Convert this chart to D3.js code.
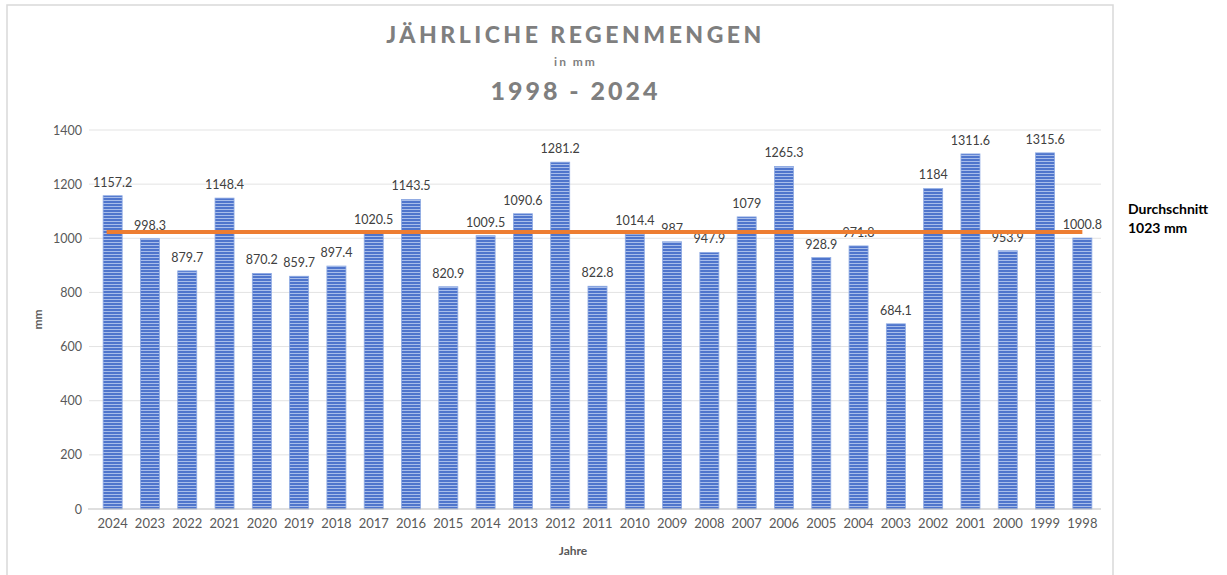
<!DOCTYPE html>
<html lang="de">
<head>
<meta charset="UTF-8">
<title>Jährliche Regenmengen</title>
<script src="https://d3js.org/d3.v7.min.js"></script>
<style>
    body { margin: 0; background: #fff; font-family: Lato, "Open Sans", sans-serif; }
    svg { display: block; }
</style>
</head>
<body>
<div id="chart"></div>
<script>
    // Daten
    const years = ["2024","2023","2022","2021","2020","2019","2018","2017","2016","2015","2014","2013","2012",
                   "2011","2010","2009","2008","2007","2006","2005","2004","2003","2002","2001","2000","1999","1998"];
    const rain = [1157.2, 998.3, 879.7, 1148.4, 870.2, 859.7, 897.4, 1020.5, 1143.5, 820.9, 1009.5, 1090.6, 1281.2,
                  822.8, 1014.4, 987, 947.9, 1079, 1265.3, 928.9, 971.8, 684.1, 1184, 1311.6, 953.9, 1315.6, 1000.8];
    const labels = ["1157.2","998.3","879.7","1148.4","870.2","859.7","897.4","1020.5","1143.5","820.9","1009.5","1090.6","1281.2",
                    "822.8","1014.4","987","947.9","1079","1265.3","928.9","971.8","684.1","1184","1311.6","953.9","1315.6","1000.8"];
    const yTicks = [0, 200, 400, 600, 800, 1000, 1200, 1400];
    const average = 1023;

    const W = 1227, H = 575;
    const plot = { left: 94, right: 1101, top: 130, bottom: 509 };

    const svg = d3.select("#chart").append("svg")
        .attr("width", W).attr("height", H);

    // Streifenmuster für die Balken
    const defs = svg.append("defs");
    const pat = defs.append("pattern")
        .attr("id", "stripes")
        .attr("patternUnits", "userSpaceOnUse")
        .attr("width", 10).attr("height", 3);
    pat.append("rect").attr("width", 10).attr("height", 3).attr("fill", "#4f75cc");
    pat.append("rect").attr("y", 2).attr("width", 10).attr("height", 1).attr("fill", "#a8bdea");

    // Rahmen
    svg.append("path")
        .attr("d", `M7,${H} V5 H1113 V${H}`)
        .attr("fill", "none")
        .attr("stroke", "#d9d9d9")
        .attr("stroke-width", 1.5);

    const x = d3.scaleBand()
        .domain(years)
        .range([plot.left, plot.right])
        .paddingInner(0.49)
        .paddingOuter(0.245);

    const y = d3.scaleLinear()
        .domain([0, 1400])
        .range([plot.bottom, plot.top]);

    // Gitterlinien
    svg.append("g")
        .selectAll("line")
        .data(yTicks.filter(d => d > 0))
        .join("line")
        .attr("x1", plot.left - 5).attr("x2", plot.right)
        .attr("y1", d => y(d)).attr("y2", d => y(d))
        .attr("stroke", "#e3e3e3");

    // y-Achse
    const yAxis = svg.append("g")
        .attr("transform", `translate(${plot.left - 8},0)`)
        .call(d3.axisLeft(y).tickValues(yTicks).tickFormat(d3.format("d")).tickSize(0).tickPadding(4));
    yAxis.select(".domain").remove();
    yAxis.selectAll("text")
        .attr("fill", "#595959")
        .style("font-size", "12.5px")
        .style("font-family", "Lato, sans-serif");

    // Balken
    svg.append("g")
        .selectAll("rect")
        .data(rain)
        .join("rect")
        .attr("x", (d, i) => x(years[i]))
        .attr("y", d => y(d))
        .attr("width", x.bandwidth())
        .attr("height", d => y(0) - y(d))
        .attr("fill", "url(#stripes)")
        .attr("stroke", "#8eaae3")
        .attr("stroke-width", 0.8);

    // x-Achse
    const xAxis = svg.append("g")
        .attr("transform", `translate(0,${plot.bottom})`)
        .call(d3.axisBottom(x).tickSize(0).tickPadding(10));
    xAxis.select(".domain")
        .attr("d", `M${plot.left - 6},0H${plot.right}`)
        .attr("stroke", "#bfbfbf");
    xAxis.selectAll("text")
        .attr("fill", "#595959")
        .style("font-size", "13px")
        .style("font-family", "Lato, sans-serif");

    // Wertebeschriftungen
    svg.append("g")
        .selectAll("text")
        .data(rain)
        .join("text")
        .attr("x", (d, i) => x(years[i]) + x.bandwidth() / 2)
        .attr("y", d => y(d) - 9)
        .attr("text-anchor", "middle")
        .attr("fill", "#404040")
        .style("font-size", "12.5px")
        .text((d, i) => labels[i]);

    // Durchschnittslinie
    svg.append("line")
        .attr("x1", x(years[0]) + x.bandwidth() / 2 - 6)
        .attr("x2", x(years[years.length - 1]) + x.bandwidth() / 2)
        .attr("y1", y(average)).attr("y2", y(average))
        .attr("stroke", "#ed7d31")
        .attr("stroke-width", 4);

    svg.append("text")
        .attr("x", 1128).attr("y", 214)
        .attr("fill", "#000")
        .style("font-size", "14px").style("font-weight", "bold")
        .text("Durchschnitt");
    svg.append("text")
        .attr("x", 1128).attr("y", 233)
        .attr("fill", "#000")
        .style("font-size", "14px").style("font-weight", "bold")
        .text(`${average} mm`);

    // Titel
    const cx = (plot.left + plot.right) / 2 - 22;
    svg.append("text")
        .attr("x", cx).attr("y", 43)
        .attr("text-anchor", "middle")
        .attr("fill", "#7f7f7f")
        .style("font-size", "23px").style("font-weight", "900")
        .style("letter-spacing", "3.5px")
        .text("JÄHRLICHE REGENMENGEN");
    svg.append("text")
        .attr("x", cx).attr("y", 66)
        .attr("text-anchor", "middle")
        .attr("fill", "#7f7f7f")
        .style("font-size", "12px").style("font-weight", "bold")
        .style("letter-spacing", "2px")
        .text("in mm");
    svg.append("text")
        .attr("x", cx).attr("y", 100)
        .attr("text-anchor", "middle")
        .attr("fill", "#7f7f7f")
        .style("font-size", "25px").style("font-weight", "900")
        .style("letter-spacing", "3px")
        .text("1998 - 2024");

    // Achsentitel
    svg.append("text")
        .attr("transform", `translate(42,${(plot.top + plot.bottom) / 2}) rotate(-90)`)
        .attr("text-anchor", "middle")
        .attr("fill", "#595959")
        .style("font-size", "12px").style("font-weight", "bold")
        .text("mm");
    svg.append("text")
        .attr("x", 573).attr("y", 555)
        .attr("text-anchor", "middle")
        .attr("fill", "#595959")
        .style("font-size", "12px").style("font-weight", "bold")
        .text("Jahre");
</script>
</body>
</html>
